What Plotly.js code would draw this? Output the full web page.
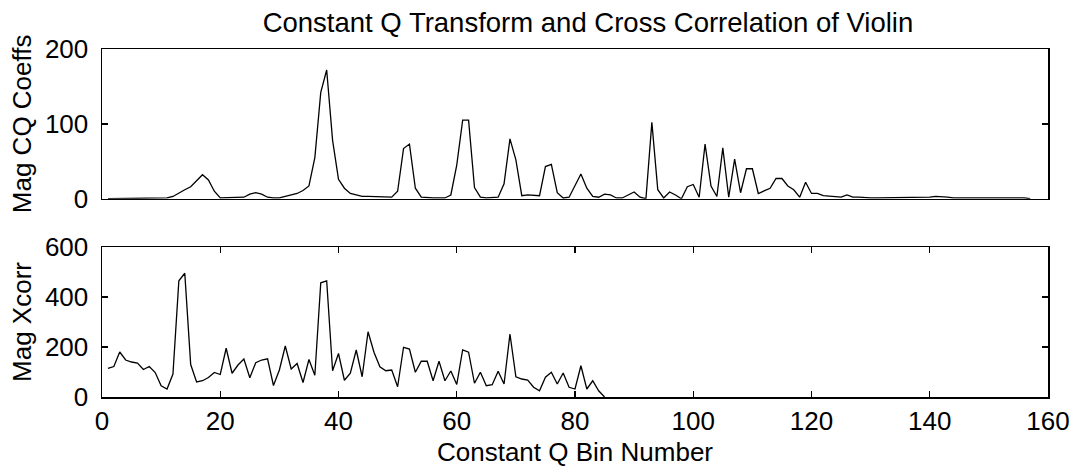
<!DOCTYPE html>
<html>
<head>
<meta charset="utf-8">
<script src="https://cdn.plot.ly/plotly-3.0.1.min.js"></script>
<style>html,body{margin:0;padding:0;background:#fff;}#chart{width:1070px;height:467px;}</style>
</head>
<body>
<div id="chart"></div>
<script>
// Top panel: magnitude of constant Q coefficients, bins 1..157
const cqMag = [
  0,0,0,0,0,0,0,0,0,0.5,
  1,3,8,12,16,24,32,25,10,1,
  1,1,1,2,6,8,6,2,1,1,
  3,5,7,11,17,55,142,172,78,26,
  14,7,5,3,3,3,3,2,2,10,
  67,73,14,2,1,1,1,1,5,45,
  105,105,15,2,1,1,2,20,80,52,
  4,5,5,4,43,46,8,1,2,18,
  33,14,3,2,6,5,1,1,5,9,
  2,0,102,12,1,9,5,0,16,19,
  2,73,17,3,68,2,53,8,40,40,
  7,10,14,27,27,17,12,2,22,7,
  7,4,3,3,2,5,2,2,1,1,
  1,1,1,1,1,1,1,1,2,2,
  3,3,2,1,1,1,1,2,2,1,
  1,1,1,1,1,1,0
];
// Bottom panel: magnitude of cross correlation, bins 1..85
const xcorrMag = [
  115,122,180,148,140,136,110,122,98,45,
  32,92,465,495,130,60,65,78,98,90,
  195,95,128,152,77,137,148,153,46,108,
  204,112,134,58,150,87,457,465,105,174,
  67,95,188,81,261,179,121,105,108,41,
  199,192,99,143,143,65,143,65,104,50,
  188,179,55,99,45,49,103,52,252,81,
  72,68,39,25,79,99,52,96,39,32,
  125,32,65,25,0
];
const cqBins = cqMag.map((_, i) => i + 1);
const xcBins = xcorrMag.map((_, i) => i + 1);

const titleText = 'Constant Q Transform and Cross Correlation of Violin';
const xTitle = 'Constant Q Bin Number';
const yTitleTop = 'Mag CQ Coeffs';
const yTitleBottom = 'Mag Xcorr';
const xTicks = [0,20,40,60,80,100,120,140,160];
const yTicksTop = [0,100,200];
const yTicksBottom = [0,200,400,600];

const FONT = 'Liberation Sans, Arial, sans-serif';
const FS_TICK = 26;
const FS_TITLE = 27.5;
const FS_AX = 26;

const traces = [
  {x: cqBins, y: cqMag, type: 'scatter', mode: 'lines', xaxis: 'x', yaxis: 'y',
   line: {color: '#000', width: 1.3}, hoverinfo: 'x+y'},
  {x: xcBins, y: xcorrMag, type: 'scatter', mode: 'lines', xaxis: 'x2', yaxis: 'y2',
   line: {color: '#000', width: 1.3}, hoverinfo: 'x+y'}
];

const axisCommon = {
  showline: true, linecolor: '#000', linewidth: 1.5, mirror: 'ticks',
  ticks: 'inside', ticklen: 6, tickwidth: 1.3, tickcolor: '#000',
  showgrid: false, zeroline: false,
  tickfont: {family: FONT, size: FS_TICK, color: '#000'}
};

const layout = {
  width: 1070, height: 467,
  paper_bgcolor: '#fff', plot_bgcolor: '#fff',
  showlegend: false,
  margin: {l: 102, r: 22, t: 49, b: 70},
  font: {family: FONT, size: FS_TICK, color: '#000'},
  title: {text: titleText, x: 0.5495, xanchor: 'center', y: 0.952, yanchor: 'middle',
          font: {family: FONT, size: FS_TITLE, color: '#000'}},
  xaxis: Object.assign({}, axisCommon, {
    domain: [0, 1], range: [0, 160], anchor: 'y', ticks: '', showticklabels: false,
    tickvals: xTicks
  }),
  yaxis: Object.assign({}, axisCommon, {
    domain: [0.5698, 1], range: [0, 200], anchor: 'x', tickvals: yTicksTop,
    ticklabelstandoff: 7,
    title: {text: yTitleTop, standoff: 6, font: {family: FONT, size: FS_AX, color: '#000'}}
  }),
  xaxis2: Object.assign({}, axisCommon, {
    domain: [0, 1], range: [0, 160], anchor: 'y2', tickvals: xTicks,
    title: {text: xTitle, standoff: 8, font: {family: FONT, size: FS_AX, color: '#000'}}
  }),
  yaxis2: Object.assign({}, axisCommon, {
    domain: [0, 0.431], range: [0, 600], anchor: 'x2', tickvals: yTicksBottom,
    ticklabelstandoff: 7,
    title: {text: yTitleBottom, standoff: 6, font: {family: FONT, size: FS_AX, color: '#000'}}
  })
};

Plotly.newPlot('chart', traces, layout, {displayModeBar: false, staticPlot: true});
</script>
</body>
</html>
